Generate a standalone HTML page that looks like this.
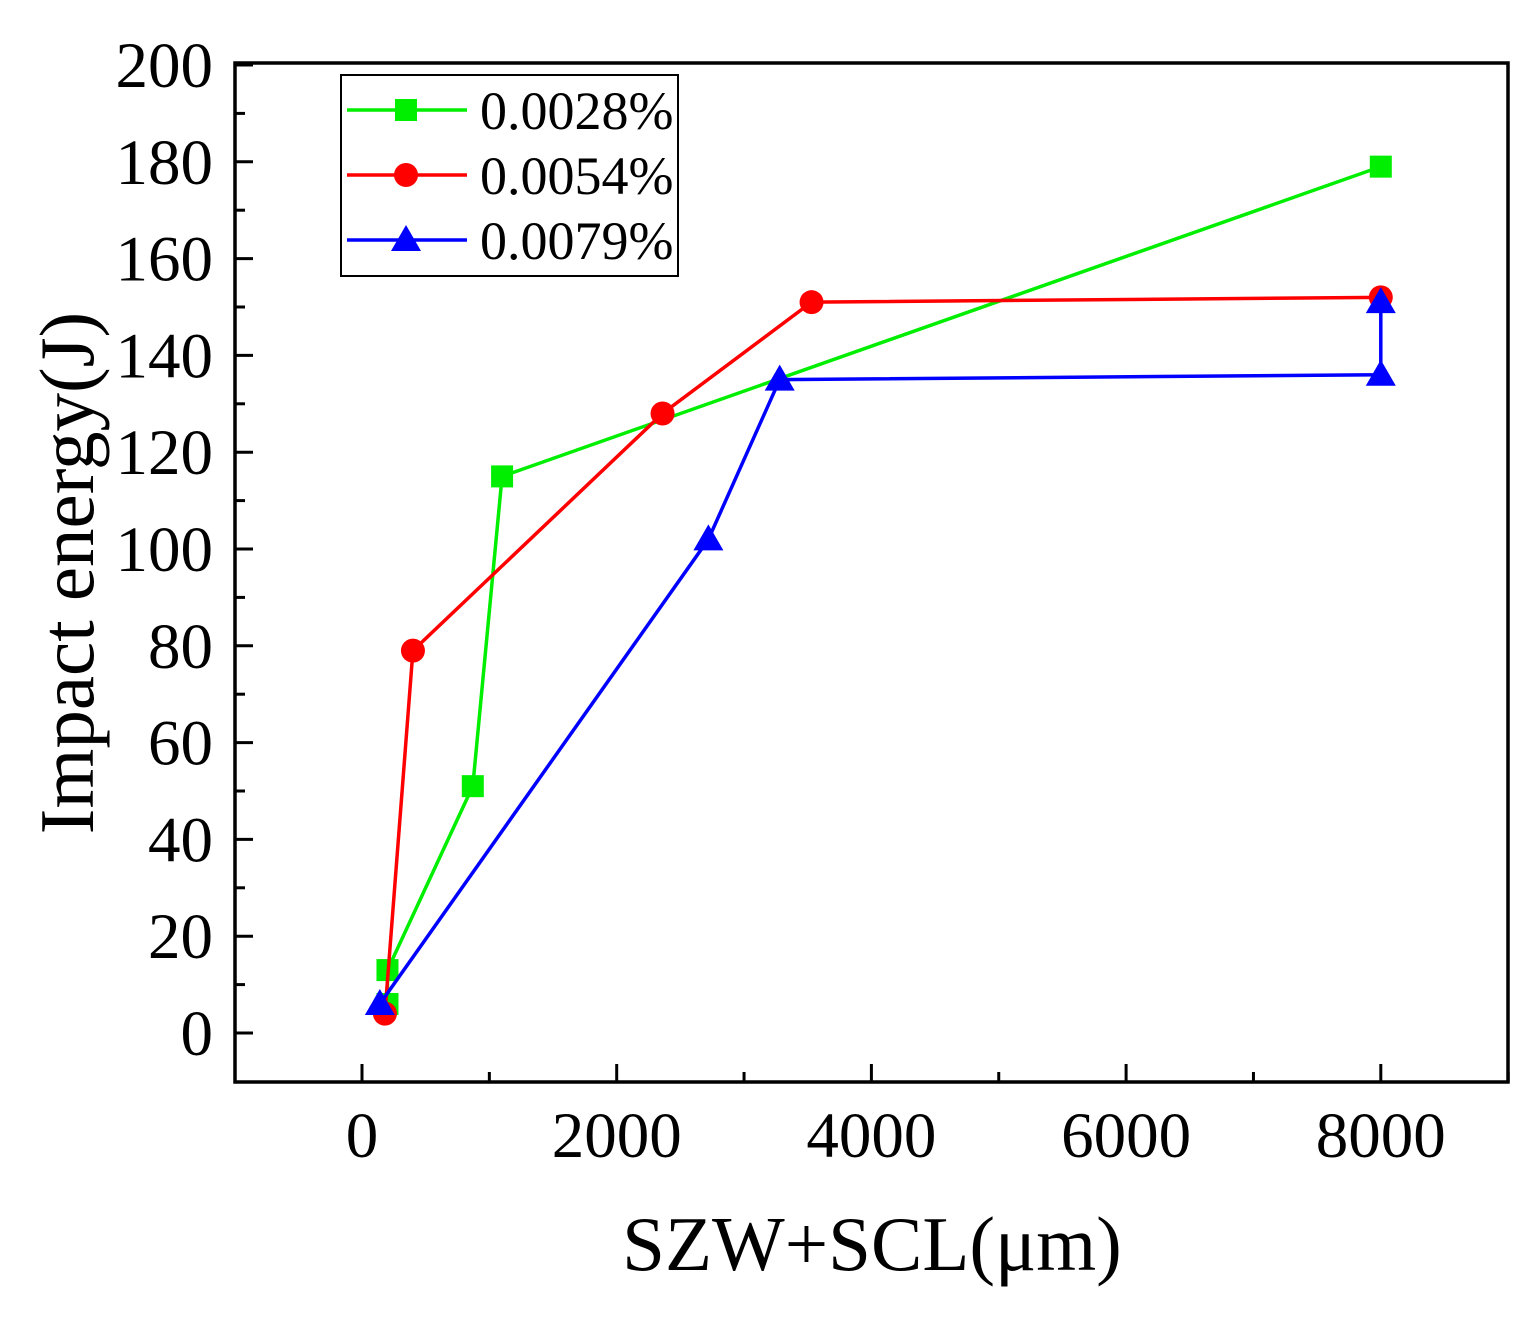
<!DOCTYPE html>
<html><head><meta charset="utf-8"><style>
body{margin:0;background:#fff}
svg{display:block;font-family:"Liberation Serif",serif}
</style></head><body>
<svg width="1535" height="1321" viewBox="0 0 1535 1321">
<g id="axes"></g><g id="series"></g><g id="legend"></g>
</svg>
<script>
const xTicks=[0,2000,4000,6000,8000];
const yTicks=[0,20,40,60,80,100,120,140,160,180,200];
const seriesNames=["0.0028%","0.0054%","0.0079%"];
const seriesColors=["#00ee00","#ff0000","#0000ff"];
const greenX=[200,200,870,1100,8000];
const greenY=[6,13,51,115,179];
const redX=[180,400,2360,3530,8000];
const redY=[4,79,128,151,152];
const blueX=[140,2720,3280,8000,8000];
const blueY=[6,102,135,136,151];
const L=235,R=1508,T=63,B=1082;
const X=v=>362+v*0.12735;
const Y=v=>1033-v*4.84;
const NS="http://www.w3.org/2000/svg";
function mk(tag,attrs,parent){const e=document.createElementNS(NS,tag);for(const k in attrs)e.setAttribute(k,attrs[k]);parent.appendChild(e);return e;}
const ax=document.getElementById('axes');
const frame=mk('rect',{x:L,y:T,width:R-L,height:B-T,fill:'none',stroke:'#000','stroke-width':3.5},ax);


xTicks.forEach(v=>{
  const t=mk('line',{x1:X(v),x2:X(v),y1:B,y2:B-18,stroke:'#000','stroke-width':3},ax);
  
  
  const m=mk('line',{x1:X(v+1000),x2:X(v+1000),y1:B,y2:B-10,stroke:'#000','stroke-width':3},ax);
  
  
  const l=mk('text',{x:X(v),y:1157,'font-size':65,'text-anchor':'middle'},ax);l.textContent=v;
  
  
});
yTicks.forEach(v=>{
  const t=mk('line',{x1:L,x2:L+18,y1:Y(v),y2:Y(v),stroke:'#000','stroke-width':3},ax);
  
  
  if(v<200){const m=mk('line',{x1:L,x2:L+10,y1:Y(v+10),y2:Y(v+10),stroke:'#000','stroke-width':3},ax);
  
  }
  const l=mk('text',{x:213,y:Y(v)+22,'font-size':65,'text-anchor':'end'},ax);l.textContent=v;
  
  
});
const xt=mk('text',{x:872,y:1270,'font-size':77,'text-anchor':'middle'},ax);xt.textContent='SZW+SCL(μm)';


const yt=mk('text',{x:0,y:0,'font-size':77,'text-anchor':'middle',transform:'translate(93,573) rotate(-90)'},ax);yt.textContent='Impact energy(J)';


const sg=document.getElementById('series');
function marker(kind,cx,cy,color,parent){
  let e;
  if(kind===0)e=mk('rect',{x:cx-11,y:cy-11,width:22,height:22,fill:color},parent);
  else if(kind===1)e=mk('circle',{cx:cx,cy:cy,r:12,fill:color},parent);
  else e=mk('polygon',{points:`${cx},${cy-15} ${cx+15},${cy+11} ${cx-15},${cy+11}`,fill:color},parent);
  return e;
}
const allX=[greenX,redX,blueX],allY=[greenY,redY,blueY];
allX.forEach((xs,i)=>{
  const g=mk('g',{},sg);
  
  
  const pts=xs.map((x,j)=>X(x)+','+Y(allY[i][j])).join(' ');
  const pl=mk('polyline',{points:pts,fill:'none',stroke:seriesColors[i],'stroke-width':3.5},g);
  
  
  xs.forEach((x,j)=>{const m=marker(i,X(x),Y(allY[i][j]),seriesColors[i],g);
    
    });
});
const lg=document.getElementById('legend');
const box=mk('rect',{x:341,y:75,width:337,height:201,fill:'#fff',stroke:'#000','stroke-width':2},lg);


seriesNames.forEach((n,i)=>{
  const cy=110+i*65;
  const ln=mk('line',{x1:347,x2:467,y1:cy,y2:cy,stroke:seriesColors[i],'stroke-width':3.5},lg);
  
  
  const m=marker(i,406,cy,seriesColors[i],lg);
  
  
  const t=mk('text',{x:480,y:cy+19,'font-size':54},lg);t.textContent=n;
  
  
});
</script>
</body></html>
